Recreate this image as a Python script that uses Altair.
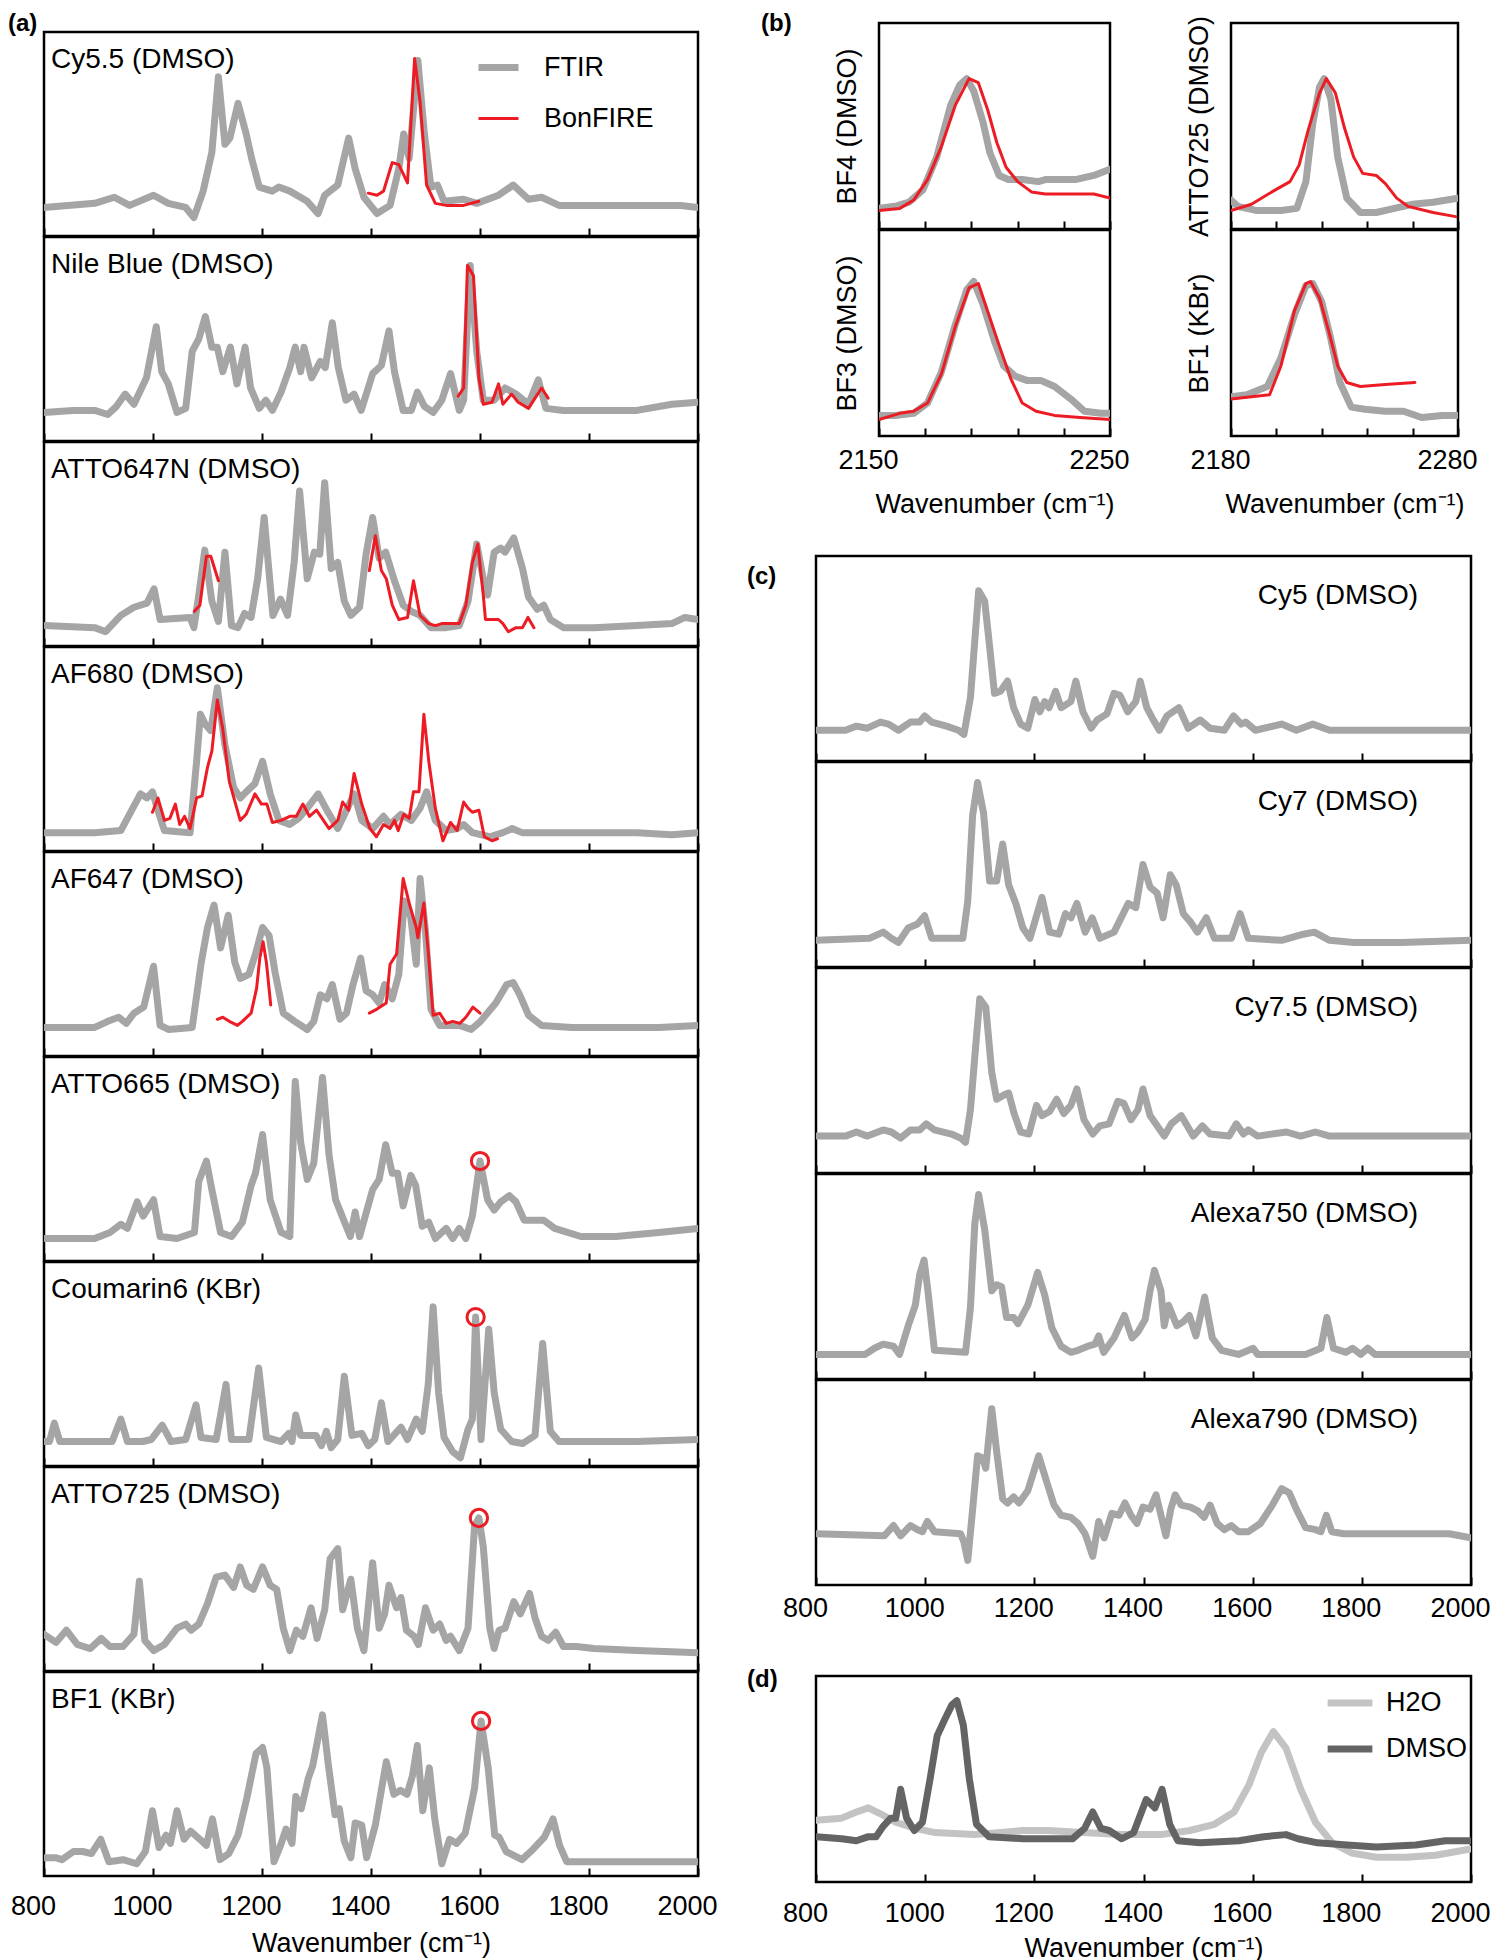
import altair as alt
import pandas as pd

FONT = "Liberation Sans, Arial, sans-serif"
GRAY = "#a5a5a5"
RED = "#ed1c24"
H2O_COLOR = "#c3c3c3"
DMSO_COLOR = "#646464"
XTITLE = "Wavenumber (cm\u207b\u00b9)"

MAIN_TICKS = [800, 1000, 1200, 1400, 1600, 1800, 2000]
B_LEFT_TICKS = [2150, 2170, 2190, 2210, 2230, 2250]
B_RIGHT_TICKS = [2180, 2200, 2220, 2240, 2260, 2280]

# ---------------- (a) ----------------
CY55_FTIR = [(800,.14),(893,.16),(929,.19),(957,.15),(1001,.20),(1028,.16),(1060,.14),(1075,.09),(1092,.22),(1108,.41),(1120,.78),(1132,.45),(1141,.48),(1156,.65),(1171,.50),(1181,.38),(1195,.24),(1219,.22),(1231,.24),(1251,.22),(1283,.17),(1303,.11),(1315,.20),(1339,.25),(1359,.48),(1371,.33),(1387,.19),(1411,.11),(1435,.15),(1451,.33),(1460,.50),(1470,.38),(1486,.86),(1498,.50),(1510,.24),(1522,.25),(1534,.17),(1570,.18),(1594,.16),(1634,.20),(1661,.25),(1689,.18),(1713,.19),(1745,.15),(1809,.15),(1888,.15),(1968,.15),(2000,.14)]
CY55_BON = [[(1395,.21),(1411,.20),(1423,.22),(1439,.36),(1451,.35),(1467,.26),(1480,.87),(1490,.66),(1502,.25),(1518,.16),(1538,.15),(1570,.15),(1598,.17)]]

NILE_FTIR = [(800,.14),(853,.15),(893,.15),(917,.13),(933,.17),(949,.23),(965,.18),(988,.31),(1006,.56),(1016,.34),(1028,.28),(1044,.14),(1060,.16),(1072,.44),(1084,.50),(1096,.61),(1108,.46),(1118,.46),(1128,.34),(1142,.46),(1154,.28),(1169,.46),(1179,.26),(1195,.16),(1207,.20),(1219,.15),(1235,.24),(1251,.36),(1261,.46),(1271,.34),(1277,.46),(1291,.31),(1307,.39),(1316,.36),(1329,.58),(1340,.36),(1354,.20),(1369,.23),(1382,.15),(1403,.33),(1419,.37),(1433,.54),(1443,.34),(1459,.15),(1474,.15),(1485,.24),(1498,.17),(1514,.14),(1530,.20),(1546,.33),(1562,.15),(1570,.20),(1582,.86),(1594,.44),(1606,.20),(1626,.20),(1646,.26),(1666,.23),(1689,.18),(1707,.30),(1721,.16),(1753,.15),(1809,.15),(1888,.15),(1952,.18),(2000,.19)]
NILE_BON = [[(1560,.22),(1570,.26),(1577,.86),(1588,.81),(1598,.31),(1606,.18),(1622,.19),(1634,.28),(1642,.18),(1658,.23),(1670,.19),(1689,.16),(1701,.21),(1713,.26),(1725,.21)]]

ATTO647N_FTIR = [(800,.10),(893,.09),(913,.07),(941,.15),(965,.19),(989,.21),(1002,.28),(1013,.13),(1068,.14),(1075,.09),(1084,.25),(1095,.47),(1108,.22),(1120,.12),(1132,.46),(1144,.10),(1156,.09),(1168,.16),(1180,.14),(1192,.33),(1204,.63),(1220,.15),(1234,.23),(1247,.15),(1259,.41),(1269,.76),(1283,.33),(1296,.46),(1306,.45),(1315,.80),(1327,.38),(1339,.41),(1351,.22),(1363,.15),(1379,.19),(1391,.45),(1403,.63),(1415,.43),(1427,.46),(1443,.32),(1459,.20),(1474,.17),(1490,.15),(1510,.09),(1538,.09),(1562,.10),(1578,.22),(1594,.50),(1606,.33),(1614,.25),(1626,.46),(1638,.48),(1646,.46),(1662,.53),(1678,.38),(1689,.24),(1705,.18),(1717,.20),(1729,.13),(1753,.09),(1809,.09),(1888,.10),(1952,.11),(1976,.14),(2000,.13)]
ATTO647N_BON = [[(1076,.17),(1086,.20),(1098,.44),(1106,.44),(1120,.32)],
                [(1397,.37),(1408,.54),(1419,.37),(1428,.33),(1439,.20),(1451,.13),(1467,.14),(1478,.32),(1490,.15),(1506,.11),(1518,.10),(1530,.11),(1546,.11),(1562,.11),(1574,.20),(1586,.41),(1596,.50),(1606,.25),(1610,.13),(1634,.13),(1642,.11),(1652,.07),(1666,.09),(1678,.09),(1688,.14),(1699,.09)]]

AF680_FTIR = [(800,.09),(893,.09),(941,.10),(961,.20),(977,.28),(989,.26),(999,.29),(1009,.20),(1021,.10),(1068,.09),(1080,.44),(1087,.67),(1096,.62),(1106,.59),(1118,.80),(1132,.52),(1148,.31),(1160,.26),(1171,.29),(1187,.33),(1201,.44),(1215,.28),(1231,.15),(1251,.13),(1267,.16),(1283,.21),(1303,.28),(1319,.20),(1339,.11),(1355,.20),(1369,.28),(1383,.15),(1403,.11),(1423,.17),(1435,.13),(1455,.18),(1474,.15),(1490,.21),(1502,.29),(1518,.15),(1538,.10),(1558,.11),(1570,.13),(1586,.09),(1618,.07),(1642,.09),(1659,.11),(1677,.09),(1729,.09),(1809,.09),(1888,.09),(1952,.08),(2000,.09)]
AF680_BON = [[(999,.19),(1009,.26),(1021,.15),(1031,.16),(1041,.23),(1049,.13),(1058,.17),(1068,.11),(1080,.26),(1090,.27),(1100,.41),(1108,.49),(1118,.74),(1128,.60),(1140,.34),(1160,.15),(1171,.18),(1187,.28),(1199,.23),(1209,.23),(1219,.14),(1235,.15),(1251,.17),(1263,.17),(1275,.23),(1287,.17),(1300,.20),(1323,.11),(1339,.15),(1348,.24),(1359,.20),(1369,.38),(1383,.23),(1398,.11),(1410,.07),(1423,.13),(1435,.11),(1443,.15),(1450,.10),(1460,.18),(1470,.16),(1478,.29),(1488,.29),(1497,.67),(1506,.44),(1518,.21),(1532,.05),(1546,.14),(1558,.10),(1570,.24),(1578,.21),(1586,.19),(1598,.20),(1608,.07),(1622,.05),(1632,.06)]]

AF647_FTIR = [(800,.14),(893,.14),(917,.17),(937,.19),(951,.16),(965,.21),(983,.24),(1001,.44),(1013,.15),(1029,.13),(1072,.14),(1088,.45),(1100,.63),(1112,.74),(1124,.53),(1138,.69),(1150,.46),(1160,.38),(1176,.40),(1188,.50),(1201,.63),(1213,.59),(1224,.41),(1239,.21),(1260,.17),(1283,.13),(1295,.17),(1307,.30),(1319,.28),(1329,.35),(1343,.18),(1355,.21),(1367,.35),(1381,.48),(1391,.32),(1403,.30),(1415,.26),(1425,.35),(1439,.28),(1451,.40),(1461,.76),(1473,.68),(1483,.45),(1490,.87),(1500,.61),(1510,.23),(1526,.15),(1562,.15),(1584,.13),(1601,.17),(1629,.26),(1649,.35),(1661,.36),(1673,.30),(1689,.20),(1713,.15),(1769,.14),(1849,.14),(1928,.14),(2000,.15)]
AF647_BON = [[(1118,.18),(1128,.19),(1140,.17),(1155,.15),(1164,.17),(1180,.21),(1190,.33),(1196,.48),(1202,.56),(1208,.46),(1216,.25)],
             [(1397,.21),(1411,.23),(1428,.26),(1435,.45),(1447,.50),(1459,.87),(1471,.74),(1483,.63),(1486,.58),(1497,.75),(1505,.51),(1514,.20),(1526,.21),(1538,.16),(1550,.17),(1563,.16),(1574,.19),(1587,.24),(1600,.21)]]

ATTO665_FTIR = [(800,.11),(893,.11),(921,.14),(941,.18),(953,.16),(971,.29),(982,.22),(1001,.30),(1013,.12),(1044,.11),(1076,.14),(1084,.39),(1098,.49),(1108,.35),(1124,.14),(1144,.12),(1164,.19),(1180,.37),(1188,.43),(1201,.62),(1215,.30),(1235,.14),(1251,.12),(1261,.88),(1271,.58),(1283,.40),(1295,.48),(1311,.90),(1323,.52),(1335,.30),(1347,.22),(1362,.12),(1371,.24),(1379,.12),(1403,.35),(1415,.40),(1427,.57),(1439,.43),(1449,.43),(1459,.27),(1473,.42),(1482,.37),(1494,.17),(1506,.19),(1518,.11),(1538,.16),(1550,.11),(1562,.16),(1574,.11),(1586,.22),(1600,.49),(1614,.30),(1626,.25),(1638,.29),(1654,.32),(1666,.29),(1681,.20),(1697,.20),(1717,.20),(1737,.16),(1785,.12),(1849,.12),(1928,.14),(2000,.16)]
ATTO665_MARK = [(1600, .49)]

COUM_FTIR = [(800,.12),(810,.12),(819,.21),(829,.12),(893,.12),(925,.12),(941,.23),(953,.12),(981,.12),(997,.13),(1017,.20),(1033,.12),(1060,.13),(1079,.30),(1088,.14),(1116,.13),(1134,.40),(1144,.13),(1176,.13),(1194,.48),(1208,.14),(1235,.12),(1249,.16),(1255,.12),(1262,.25),(1271,.15),(1299,.15),(1309,.10),(1318,.17),(1327,.09),(1339,.13),(1351,.44),(1365,.15),(1383,.16),(1395,.10),(1407,.13),(1419,.31),(1431,.12),(1455,.19),(1467,.13),(1483,.23),(1494,.17),(1505,.40),(1514,.78),(1524,.36),(1534,.14),(1550,.07),(1564,.04),(1578,.18),(1586,.23),(1592,.73),(1602,.13),(1616,.67),(1626,.36),(1638,.18),(1658,.12),(1678,.11),(1701,.15),(1715,.60),(1729,.17),(1745,.12),(1809,.12),(1888,.12),(2000,.13)]
COUM_MARK = [(1592, .73)]

ATTO725_FTIR = [(800,.18),(822,.14),(841,.20),(861,.13),(885,.11),(905,.16),(921,.12),(945,.12),(965,.18),(975,.44),(985,.15),(1001,.10),(1021,.13),(1044,.21),(1060,.23),(1070,.20),(1084,.23),(1100,.33),(1116,.46),(1132,.47),(1148,.41),(1160,.51),(1172,.42),(1184,.40),(1201,.51),(1215,.42),(1227,.40),(1239,.21),(1251,.10),(1263,.20),(1275,.17),(1290,.31),(1301,.16),(1315,.30),(1325,.55),(1339,.60),(1348,.30),(1363,.45),(1375,.21),(1387,.10),(1403,.53),(1415,.21),(1425,.28),(1433,.42),(1447,.31),(1455,.36),(1465,.20),(1479,.17),(1487,.13),(1500,.31),(1514,.20),(1526,.23),(1538,.15),(1546,.17),(1562,.10),(1578,.21),(1590,.71),(1598,.75),(1606,.61),(1618,.21),(1626,.11),(1635,.20),(1646,.21),(1662,.34),(1674,.28),(1691,.38),(1701,.26),(1713,.17),(1725,.15),(1739,.19),(1753,.12),(1777,.12),(1809,.11),(1888,.10),(2000,.09)]
ATTO725_MARK = [(1598, .75)]

BF1_FTIR = [(800,.09),(821,.09),(833,.08),(854,.12),(871,.12),(887,.11),(904,.18),(919,.07),(945,.08),(970,.06),(986,.12),(999,.32),(1011,.14),(1024,.20),(1032,.16),(1044,.32),(1057,.18),(1069,.22),(1086,.18),(1098,.15),(1109,.28),(1123,.08),(1139,.11),(1156,.20),(1172,.38),(1189,.60),(1201,.63),(1209,.53),(1222,.07),(1234,.15),(1244,.23),(1255,.16),(1262,.39),(1272,.33),(1285,.48),(1293,.54),(1311,.79),(1322,.54),(1334,.30),(1342,.33),(1351,.17),(1363,.09),(1371,.26),(1383,.25),(1392,.09),(1408,.25),(1428,.56),(1442,.40),(1454,.42),(1466,.40),(1476,.49),(1485,.64),(1495,.32),(1507,.53),(1517,.28),(1530,.06),(1544,.18),(1557,.16),(1573,.21),(1590,.43),(1602,.76),(1615,.53),(1627,.20),(1635,.19),(1648,.12),(1677,.08),(1697,.13),(1718,.19),(1734,.28),(1746,.15),(1759,.07),(1797,.07),(1879,.07),(2000,.07)]
BF1_MARK = [(1602, .76)]

# ---------------- (b) ----------------
BF4_FTIR = [(2150,.10),(2157,.11),(2163,.13),(2169,.19),(2175,.35),(2181,.60),(2185,.70),(2188,.73),(2191,.67),(2195,.52),(2198,.37),(2202,.26),(2206,.24),(2212,.24),(2219,.23),(2222,.24),(2228,.24),(2235,.24),(2243,.26),(2250,.29)]
BF4_BON = [(2150,.09),(2159,.10),(2165,.14),(2171,.24),(2177,.40),(2183,.60),(2189,.73),(2193,.71),(2197,.58),(2201,.42),(2205,.30),(2210,.23),(2216,.18),(2222,.17),(2233,.17),(2243,.17),(2250,.15)]
BF3_FTIR = [(2150,.10),(2157,.10),(2165,.11),(2171,.16),(2177,.31),(2183,.54),(2188,.71),(2191,.75),(2195,.64),(2200,.46),(2204,.34),(2209,.29),(2214,.27),(2220,.27),(2226,.24),(2233,.18),(2239,.12),(2246,.11),(2250,.11)]
BF3_BON = [(2150,.08),(2159,.11),(2165,.12),(2171,.16),(2177,.30),(2183,.53),(2189,.72),(2193,.74),(2196,.64),(2202,.44),(2207,.28),(2212,.16),(2218,.12),(2226,.10),(2237,.09),(2250,.08)]
ATTO725B_FTIR = [(2180,.14),(2183,.11),(2191,.09),(2202,.09),(2209,.10),(2213,.23),(2216,.51),(2219,.69),(2221,.73),(2224,.63),(2227,.35),(2231,.15),(2237,.08),(2244,.08),(2252,.10),(2260,.12),(2269,.13),(2280,.15)]
ATTO725B_BON = [(2180,.09),(2189,.12),(2198,.18),(2206,.23),(2210,.31),(2214,.48),(2219,.66),(2222,.73),(2226,.66),(2230,.49),(2234,.35),(2238,.27),(2244,.26),(2248,.22),(2253,.15),(2258,.11),(2269,.08),(2279,.06)]
BF1B_FTIR = [(2180,.19),(2187,.20),(2196,.24),(2202,.38),(2208,.59),(2213,.73),(2216,.74),(2220,.65),(2224,.47),(2228,.26),(2233,.14),(2239,.13),(2248,.12),(2256,.12),(2264,.09),(2273,.10),(2280,.10)]
BF1B_BON = [(2180,.18),(2189,.19),(2197,.20),(2202,.34),(2208,.61),(2213,.74),(2215,.75),(2219,.67),(2223,.51),(2227,.34),(2231,.26),(2237,.24),(2248,.25),(2261,.26)]

# ---------------- (c) ----------------
CY5 = [(800,.15),(854,.15),(874,.17),(894,.16),(918,.19),(933,.18),(951,.15),(973,.19),(990,.19),(999,.22),(1012,.19),(1039,.17),(1061,.15),(1071,.13),(1083,.31),(1091,.59),(1098,.83),(1109,.78),(1118,.56),(1127,.33),(1138,.34),(1151,.39),(1162,.26),(1175,.18),(1188,.16),(1201,.30),(1210,.24),(1219,.29),(1227,.26),(1239,.34),(1249,.26),(1267,.29),(1276,.39),(1289,.24),(1304,.16),(1315,.20),(1333,.23),(1346,.33),(1357,.32),(1371,.24),(1386,.29),(1394,.39),(1406,.26),(1416,.21),(1429,.15),(1443,.22),(1465,.26),(1482,.16),(1504,.20),(1522,.16),(1548,.15),(1565,.22),(1579,.18),(1587,.19),(1605,.15),(1653,.18),(1680,.15),(1710,.18),(1741,.15),(1829,.15),(1917,.15),(2000,.15)]
CY7 = [(800,.13),(898,.14),(923,.17),(938,.14),(951,.12),(969,.19),(986,.21),(999,.25),(1012,.14),(1069,.14),(1078,.32),(1087,.74),(1096,.90),(1107,.75),(1118,.42),(1131,.42),(1142,.60),(1153,.40),(1166,.31),(1179,.19),(1192,.14),(1214,.34),(1228,.17),(1245,.16),(1257,.26),(1267,.24),(1278,.31),(1293,.17),(1306,.24),(1320,.14),(1346,.17),(1372,.31),(1386,.29),(1399,.50),(1412,.39),(1425,.36),(1436,.24),(1449,.45),(1460,.40),(1473,.26),(1486,.22),(1499,.17),(1515,.24),(1530,.14),(1561,.14),(1577,.26),(1592,.14),(1653,.13),(1693,.16),(1713,.17),(1741,.13),(1785,.12),(1873,.12),(2000,.13)]
CY75 = [(800,.18),(854,.18),(874,.20),(894,.18),(923,.21),(938,.20),(955,.17),(973,.21),(990,.21),(1002,.24),(1017,.21),(1048,.19),(1065,.17),(1074,.15),(1083,.31),(1091,.57),(1100,.85),(1111,.81),(1122,.49),(1131,.36),(1144,.38),(1153,.39),(1163,.29),(1175,.20),(1190,.19),(1204,.33),(1214,.28),(1228,.30),(1241,.36),(1254,.29),(1267,.33),(1278,.41),(1291,.26),(1307,.19),(1320,.23),(1337,.24),(1353,.35),(1364,.34),(1377,.26),(1390,.31),(1399,.41),(1412,.28),(1425,.23),(1438,.18),(1451,.24),(1469,.28),(1491,.18),(1508,.23),(1522,.19),(1557,.18),(1570,.24),(1583,.19),(1592,.21),(1609,.18),(1662,.20),(1688,.18),(1715,.20),(1741,.18),(1829,.18),(2000,.18)]
ALEXA750 = [(800,.12),(890,.12),(907,.15),(923,.17),(942,.16),(953,.12),(969,.26),(982,.36),(990,.51),(998,.58),(1005,.43),(1017,.14),(1074,.13),(1083,.35),(1091,.76),(1098,.90),(1109,.73),(1122,.43),(1131,.46),(1140,.45),(1149,.30),(1162,.30),(1170,.27),(1188,.36),(1206,.52),(1219,.41),(1232,.25),(1249,.16),(1267,.13),(1280,.14),(1298,.16),(1311,.17),(1318,.21),(1327,.13),(1346,.20),(1365,.31),(1379,.20),(1390,.23),(1403,.29),(1412,.43),(1420,.53),(1432,.43),(1438,.26),(1446,.36),(1461,.26),(1473,.28),(1484,.31),(1496,.21),(1512,.40),(1526,.20),(1543,.14),(1574,.12),(1601,.15),(1609,.12),(1697,.12),(1725,.15),(1736,.30),(1748,.15),(1771,.13),(1783,.15),(1798,.12),(1811,.15),(1824,.12),(2000,.12)]
ALEXA790 = [(800,.25),(925,.24),(942,.29),(955,.24),(973,.29),(986,.27),(995,.26),(1004,.31),(1017,.26),(1065,.25),(1071,.21),(1078,.12),(1087,.37),(1096,.63),(1105,.62),(1111,.57),(1122,.86),(1131,.65),(1142,.42),(1151,.40),(1162,.43),(1172,.40),(1188,.46),(1208,.63),(1223,.50),(1236,.39),(1249,.34),(1267,.33),(1280,.30),(1293,.25),(1307,.14),(1318,.31),(1328,.23),(1342,.35),(1355,.34),(1366,.40),(1377,.34),(1388,.30),(1399,.38),(1412,.37),(1423,.44),(1432,.34),(1441,.24),(1450,.37),(1458,.44),(1469,.39),(1486,.38),(1500,.36),(1511,.33),(1522,.39),(1535,.30),(1548,.27),(1561,.29),(1574,.26),(1592,.26),(1614,.30),(1636,.39),(1653,.47),(1667,.45),(1680,.37),(1697,.28),(1715,.27),(1725,.26),(1735,.34),(1745,.26),(1767,.25),(1829,.25),(1917,.25),(1960,.25),(2000,.23)]

# ---------------- (d) ----------------
H2O = [(800,.30),(847,.31),(874,.34),(896,.36),(919,.33),(946,.29),(982,.26),(1018,.24),(1090,.23),(1180,.25),(1225,.25),(1288,.24),(1360,.23),(1432,.23),(1485,.25),(1530,.28),(1566,.34),(1593,.47),(1616,.63),(1638,.73),(1661,.65),(1688,.45),(1715,.29),(1746,.19),(1782,.14),(1827,.12),(1881,.12),(1935,.13),(2000,.16)]
DMSO = [(800,.22),(847,.21),(874,.20),(896,.22),(910,.22),(923,.27),(937,.31),(946,.31),(955,.45),(966,.31),(980,.25),(995,.29),(1009,.50),(1022,.71),(1036,.79),(1049,.86),(1058,.88),(1070,.76),(1081,.50),(1094,.28),(1117,.22),(1180,.21),(1270,.21),(1292,.26),(1307,.34),(1322,.26),(1337,.25),(1360,.21),(1382,.24),(1405,.40),(1421,.36),(1434,.45),(1448,.28),(1463,.20),(1504,.19),(1575,.20),(1620,.22),(1661,.23),(1683,.21),(1719,.19),(1773,.18),(1827,.17),(1899,.18),(1953,.20),(2000,.20)]


def df(pts, seg=0, **extra):
    d = pd.DataFrame({"x": [p[0] for p in pts], "y": [p[1] for p in pts]})
    d["seg"] = seg
    for k, v in extra.items():
        d[k] = v
    return d


def segs_df(segs, **extra):
    return pd.concat([df(s, i, **extra) for i, s in enumerate(segs)], ignore_index=True)


def x_axis(ticks, labels, title, label_pad, title_pad=11, label_expr=None):
    kw = dict(values=ticks, tickSize=8, offset=-8, domain=False, grid=False,
              tickColor="black", tickWidth=2, labels=labels, labelFont=FONT,
              labelFontSize=27, labelColor="black", labelPadding=label_pad,
              labelFlush=False, labelOffset=-11, format="d",
              titleFont=FONT, titleFontSize=27, titleFontWeight="normal",
              titleColor="black", titlePadding=title_pad, title=title)
    if label_expr:
        kw["labelExpr"] = label_expr
    return alt.Axis(**kw)


def text_layer(txt, x, y, size=28, align="left", baseline="middle", bold=False):
    return alt.Chart(pd.DataFrame({"t": [txt]})).mark_text(
        font=FONT, fontSize=size, align=align, baseline=baseline, color="black",
        fontWeight="bold" if bold else "normal"
    ).encode(x=alt.value(x), y=alt.value(y), text="t:N")


def spectrum_panel(label, ftir, bon=None, mark=None, axis=None, label_right=False,
                   legend=False, extra=None, width=654, height=204, color=GRAY):
    xs = alt.Scale(domain=[800, 2000], nice=False, zero=False)
    ys = alt.Scale(domain=[0, 1], nice=False, zero=False)
    X = alt.X("x:Q", scale=xs, axis=axis)
    Y = alt.Y("y:Q", scale=ys, axis=None)
    layers = []
    if legend:
        leg = alt.Legend(title=None, orient="none", legendX=431, legendY=12, padding=0,
                         symbolType="stroke", symbolSize=1600, labelFont=FONT,
                         labelFontSize=27, labelColor="black", labelOffset=22, rowPadding=15)
        cs = alt.Scale(domain=["FTIR", "BonFIRE"], range=[GRAY, RED])
        ws = alt.Scale(domain=["FTIR", "BonFIRE"], range=[7, 3])
        enc = dict(x=X, y=Y, color=alt.Color("series:N", scale=cs, legend=leg),
                   strokeWidth=alt.StrokeWidth("series:N", scale=ws, legend=leg),
                   detail="seg:N")
        layers.append(alt.Chart(df(ftir, series="FTIR")).mark_line(
            clip=True, strokeJoin="round", strokeCap="round").encode(**enc))
        layers.append(alt.Chart(segs_df(bon, series="BonFIRE")).mark_line(
            clip=True, strokeJoin="round", strokeCap="round").encode(**enc))
    else:
        layers.append(alt.Chart(df(ftir)).mark_line(
            clip=True, color=color, strokeWidth=7, strokeJoin="round", strokeCap="round"
        ).encode(x=X, y=Y))
        if bon:
            layers.append(alt.Chart(segs_df(bon)).mark_line(
                clip=True, color=RED, strokeWidth=3, strokeJoin="round", strokeCap="round"
            ).encode(x=X, y=Y, detail="seg:N"))
    if mark:
        layers.append(alt.Chart(df(mark)).mark_point(
            shape="circle", filled=False, color=RED, size=300, strokeWidth=3, opacity=1
        ).encode(x=X, y=Y))
    if label_right:
        layers.append(text_layer(label, 602, 40, align="right"))
    else:
        layers.append(text_layer(label, 7, 28))
    if extra is not None:
        layers.append(extra)
    return alt.layer(*layers).properties(width=width, height=height)


def b_panel(ytitle, ftir, bon, dom, ticks, bottom, width):
    xs = alt.Scale(domain=dom, nice=False, zero=False)
    ys = alt.Scale(domain=[0, 1], nice=False, zero=False)
    expr = "(datum.value == %d || datum.value == %d) ? datum.label : ''" % (dom[0], dom[1])
    ax = x_axis(ticks, bottom, XTITLE if bottom else None, 11, title_pad=18, label_expr=expr)
    yax = alt.Axis(title=ytitle, labels=False, ticks=False, domain=False, grid=False,
                   titleFont=FONT, titleFontSize=27, titleFontWeight="normal",
                   titleColor="black", titlePadding=18)
    X = alt.X("x:Q", scale=xs, axis=ax)
    Y = alt.Y("y:Q", scale=ys, axis=yax)
    g = alt.Chart(df(ftir)).mark_line(clip=True, color=GRAY, strokeWidth=7,
                                      strokeJoin="round", strokeCap="round").encode(x=X, y=Y)
    r = alt.Chart(df(bon)).mark_line(clip=True, color=RED, strokeWidth=3,
                                     strokeJoin="round", strokeCap="round").encode(x=X, y=Y)
    return alt.layer(g, r).properties(width=width, height=206)


def spacer(w, h, txt, tx, ty):
    return text_layer(txt, tx, ty, size=24, baseline="top", bold=True).properties(
        width=w, height=h, view=alt.ViewBackground(stroke="transparent", strokeWidth=0))


IND = dict(color="independent", strokeWidth="independent")

# ----- (a) column -----
a_specs = [
    ("Cy5.5 (DMSO)", CY55_FTIR, CY55_BON, None),
    ("Nile Blue (DMSO)", NILE_FTIR, NILE_BON, None),
    ("ATTO647N (DMSO)", ATTO647N_FTIR, ATTO647N_BON, None),
    ("AF680 (DMSO)", AF680_FTIR, AF680_BON, None),
    ("AF647 (DMSO)", AF647_FTIR, AF647_BON, None),
    ("ATTO665 (DMSO)", ATTO665_FTIR, None, ATTO665_MARK),
    ("Coumarin6 (KBr)", COUM_FTIR, None, COUM_MARK),
    ("ATTO725 (DMSO)", ATTO725_FTIR, None, ATTO725_MARK),
    ("BF1 (KBr)", BF1_FTIR, None, BF1_MARK),
]
a_panels = []
for i, (lab, ft, bo, mk) in enumerate(a_specs):
    last = i == len(a_specs) - 1
    ax = x_axis(MAIN_TICKS, last, XTITLE if last else None, 17)
    a_panels.append(spectrum_panel(lab, ft, bo, mk, axis=ax, legend=(i == 0)))

a_stack = alt.vconcat(*a_panels, spacing=1, bounds="flush").resolve_scale(**IND)
left = alt.vconcat(spacer(20, 9, "(a)", -36, -11), a_stack, spacing=0,
                   bounds="flush").resolve_scale(**IND)

# ----- (b) -----
bf4 = b_panel("BF4 (DMSO)", BF4_FTIR, BF4_BON, [2150, 2250], B_LEFT_TICKS, False, 231)
bf3 = b_panel("BF3 (DMSO)", BF3_FTIR, BF3_BON, [2150, 2250], B_LEFT_TICKS, True, 231)
at7 = b_panel("ATTO725 (DMSO)", ATTO725B_FTIR, ATTO725B_BON, [2180, 2280], B_RIGHT_TICKS, False, 227)
bf1 = b_panel("BF1 (KBr)", BF1B_FTIR, BF1B_BON, [2180, 2280], B_RIGHT_TICKS, True, 227)
b_group = alt.hconcat(
    spacer(15, 8, "(b)", -55, -11),
    alt.hconcat(alt.vconcat(bf4, bf3, spacing=1, bounds="flush"),
                alt.vconcat(at7, bf1, spacing=1, bounds="flush"), spacing=52),
    spacing=0)

# ----- (c) -----
c_specs = [("Cy5 (DMSO)", CY5), ("Cy7 (DMSO)", CY7), ("Cy7.5 (DMSO)", CY75),
           ("Alexa750 (DMSO)", ALEXA750), ("Alexa790 (DMSO)", ALEXA790)]
c_panels = []
for i, (lab, sp) in enumerate(c_specs):
    last = i == len(c_specs) - 1
    ax = x_axis(MAIN_TICKS, last, None, 10)
    extra = text_layer("(c)", -69, 9, size=24, baseline="top", bold=True) if i == 0 else None
    c_panels.append(spectrum_panel(lab, sp, axis=ax, label_right=True, extra=extra,
                                   width=655, height=205))
c_group = alt.vconcat(*c_panels, spacing=1, bounds="flush")

# ----- (d) -----
dxs = alt.Scale(domain=[800, 2000], nice=False, zero=False)
dys = alt.Scale(domain=[0, 1], nice=False, zero=False)
d_leg = alt.Legend(title=None, orient="none", legendX=508, legendY=1, padding=0,
                   symbolType="stroke", symbolSize=2000, symbolStrokeWidth=7,
                   labelFont=FONT, labelFontSize=27, labelColor="black",
                   labelOffset=10, rowPadding=6)
d_df = pd.concat([df(H2O, series="H2O"), df(DMSO, series="DMSO")], ignore_index=True)
d_lines = alt.Chart(d_df).mark_line(clip=True, strokeWidth=7, strokeJoin="round",
                                    strokeCap="round").encode(
    x=alt.X("x:Q", scale=dxs, axis=x_axis(MAIN_TICKS, True, XTITLE, 18, title_pad=9)),
    y=alt.Y("y:Q", scale=dys, axis=None),
    color=alt.Color("series:N", scale=alt.Scale(domain=["H2O", "DMSO"],
                                                range=[H2O_COLOR, DMSO_COLOR]), legend=d_leg),
    order=alt.Order("seg:Q"))
d_chart = alt.layer(d_lines, text_layer("(d)", -69, -8, size=24, baseline="top", bold=True)
                    ).properties(width=655, height=206)

cd_group = alt.vconcat(c_group, d_chart, spacing=43).resolve_scale(**IND)
right = alt.vconcat(b_group, cd_group, spacing=35).resolve_scale(**IND)

chart = alt.hconcat(left, right, spacing=26).resolve_scale(**IND).properties(
    padding={"top": 4, "left": 0, "right": 0, "bottom": 0}
).configure(font=FONT).configure_view(stroke="black", strokeWidth=2.5)

chart.save("out.html", embed_options={"renderer": "svg", "actions": False})
